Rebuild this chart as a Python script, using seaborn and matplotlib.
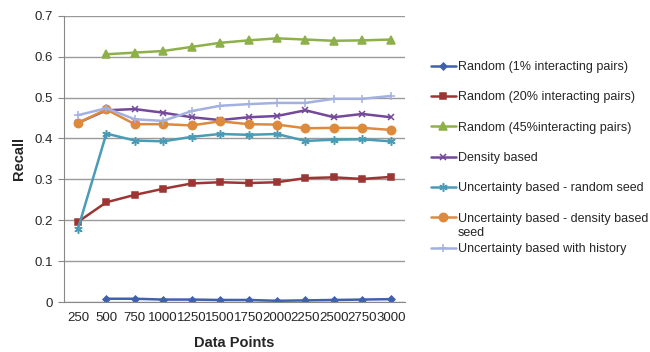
import numpy as np
import pandas as pd
import seaborn as sns
import matplotlib.pyplot as plt
from matplotlib.ticker import FuncFormatter

# data
data_points = [250, 500, 750, 1000, 1250, 1500, 1750, 2000, 2250, 2500, 2750, 3000]
random_1 = [np.nan, 0.008, 0.008, 0.006, 0.006, 0.005, 0.005, 0.003, 0.004, 0.005, 0.006, 0.007]
random_20 = [0.196, 0.244, 0.262, 0.277, 0.290, 0.293, 0.291, 0.293, 0.303, 0.305, 0.301, 0.306]
random_45 = [np.nan, 0.606, 0.610, 0.614, 0.624, 0.634, 0.640, 0.645, 0.642, 0.639, 0.640, 0.642]
density = [0.438, 0.469, 0.472, 0.463, 0.452, 0.445, 0.452, 0.455, 0.469, 0.452, 0.460, 0.452]
unc_random = [0.179, 0.412, 0.395, 0.393, 0.404, 0.411, 0.409, 0.411, 0.394, 0.397, 0.398, 0.393]
unc_density = [0.438, 0.471, 0.435, 0.435, 0.432, 0.442, 0.435, 0.434, 0.425, 0.426, 0.426, 0.421]
unc_history = [0.457, 0.474, 0.447, 0.443, 0.467, 0.480, 0.484, 0.487, 0.487, 0.497, 0.497, 0.504]

# "seed" wraps onto a second line in the legend, drawn separately below
names = ["Random (1% interacting pairs)",
         "Random (20% interacting pairs)",
         "Random (45%interacting pairs)",
         "Density based",
         "Uncertainty based - random seed",
         "Uncertainty based - density based",
         "Uncertainty based with history"]
series = [random_1, random_20, random_45, density, unc_random, unc_density, unc_history]
colors = ["#4060B0", "#9B3634", "#8DB04A", "#74489A", "#4A9BB5", "#DD8A3C", "#A3B0E2"]
markers = ["D", "s", "^", "x", (6, 2, 0), "o", "+"]
sizes = [3.5, 5, 6, 5, 6, 6, 6]

rows = []
for n, vals in zip(names, series):
    for x, v in zip(data_points, vals):
        rows.append({"Data Points": x, "Recall": v, "series": n})
df = pd.DataFrame(rows)

sns.set_style("white")
plt.rcParams['font.family'] = ['Liberation Sans', 'DejaVu Sans']

fig = plt.figure(figsize=(6.5, 3.52), dpi=100)
ax = fig.add_axes([0.098, 0.142, 0.525, 0.813])

for n, c, m, s in zip(names, colors, markers, sizes):
    sns.lineplot(data=df[df.series == n], x="Data Points", y="Recall", color=c,
                 marker=m, markersize=s, markeredgecolor=c, markeredgewidth=1.1,
                 linewidth=1.8, label=n, ax=ax)

ax.set_xlim(125, 3125)
ax.set_ylim(0, 0.7)
ax.set_xticks(data_points)
ax.set_xticks([x + 125 for x in data_points[:-1]] + [125], minor=True)
ax.tick_params(axis="x", which="major", length=0, labelsize=9.5, pad=7)
ax.tick_params(axis="x", which="minor", length=4, color="#888888", direction="out")
ax.tick_params(axis="y", length=4, color="#888888", direction="out", labelsize=9.5, left=True)
ax.yaxis.set_major_formatter(FuncFormatter(lambda v, p: "{:g}".format(round(v, 1))))
ax.yaxis.grid(True, color="#9a9a9a", linewidth=1)
for sp in ["top", "right"]:
    ax.spines[sp].set_visible(False)
for sp in ["left", "bottom"]:
    ax.spines[sp].set_color("#888888")
ax.set_xlabel("Data Points", fontsize=10.5, fontweight="bold", labelpad=9)
ax.set_ylabel("Recall", fontsize=10.5, fontweight="bold", labelpad=6)

leg = ax.legend(loc="upper left", bbox_to_anchor=(0.655, 0.841), bbox_transform=fig.transFigure,
                frameon=False, fontsize=9, handlelength=2.0, handletextpad=0.15,
                labelspacing=1.47, borderaxespad=0)

# second line of the wrapped label
fig.canvas.draw()
bb = leg.get_texts()[5].get_window_extent()
W, H = fig.bbox.width, fig.bbox.height
fig.text(bb.x0 / W, (bb.y0 - 2) / H, "seed", fontsize=9, va="top", ha="left")

fig.savefig("out.png", dpi=100)
